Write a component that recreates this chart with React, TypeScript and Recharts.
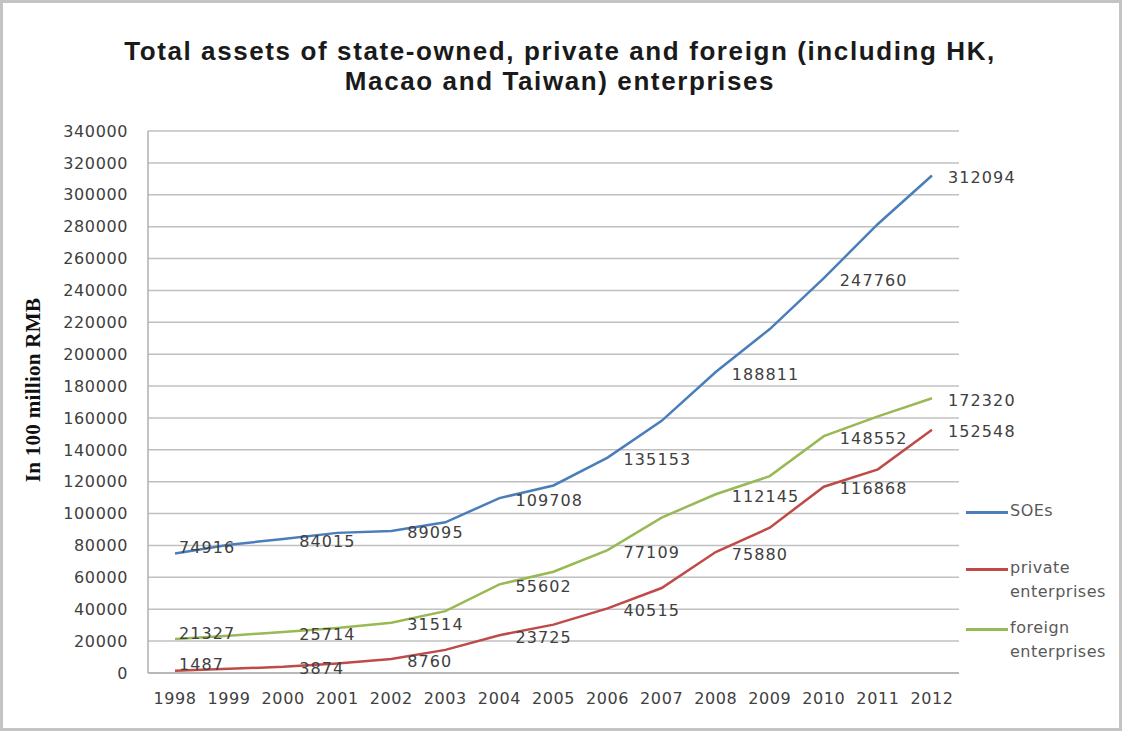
import React from "react"
import { LineChart, Line, XAxis, YAxis, CartesianGrid, LabelList, Legend } from "recharts"

const years = ["1998", "1999", "2000", "2001", "2002", "2003", "2004", "2005", "2006", "2007", "2008", "2009", "2010", "2011", "2012"]
const soes = [74916, 80472, 84015, 87902, 89095, 94520, 109708, 117630, 135153, 158188, 188811, 215742, 247760, 281674, 312094]
const privateEnt = [1487, 2600, 3874, 6000, 8760, 14500, 23725, 30325, 40515, 53305, 75880, 91176, 116868, 127750, 152548]
const foreignEnt = [21327, 23400, 25714, 28300, 31514, 38800, 55602, 63500, 77109, 97500, 112145, 123500, 148552, 161000, 172320]
const yTicks = [0, 20000, 40000, 60000, 80000, 100000, 120000, 140000, 160000, 180000, 200000, 220000, 240000, 260000, 280000, 300000, 320000, 340000]
const titleLines = ["Total assets of state-owned, private and foreign (including HK,", "Macao and Taiwan) enterprises"]

const data = years.map((year, i) => ({
  year,
  soes: soes[i],
  private: privateEnt[i],
  foreign: foreignEnt[i],
}))

const FONT = "'DejaVu Sans', sans-serif"
const TXT = "#404040"
const tickStyle = { fontFamily: FONT, fontSize: 16, fill: TXT, letterSpacing: 0.6 }

// Excel-style labels on every other year, placed right of the point
const PointLabel = (props: any) => {
  const { x, y, value, index } = props
  if (index % 2 !== 0) return null
  const first = index === 0
  return (
    <text
      x={x + (first ? 4 : 16)}
      y={y + (first ? -6 : 2)}
      dominantBaseline="central"
      textAnchor="start"
      fontFamily={FONT}
      fontSize={16}
      letterSpacing={1.1}
      fill={TXT}
    >
      {value}
    </text>
  )
}

const legendItems = [
  { name: ["SOEs"], color: "#4A7EBB", top: 512 },
  { name: ["private", "enterprises"], color: "#BE4B48", top: 569 },
  { name: ["foreign", "enterprises"], color: "#98B954", top: 629 },
]

const SideLegend = () => (
  <div style={{ position: "absolute", left: 0, top: 0, width: 1125, height: 733, pointerEvents: "none" }}>
    {legendItems.map((it) => (
      <div key={it.name[0]} style={{ position: "absolute", left: 966, top: it.top - 10, display: "flex" }}>
        <div style={{ width: 42, height: 3, background: it.color, marginTop: 9, marginRight: 2 }} />
        <div style={{ fontFamily: FONT, fontSize: 16, letterSpacing: 0.5, color: "#595959", lineHeight: "24px", marginTop: -3 }}>
          {it.name.map((n) => (
            <div key={n}>{n}</div>
          ))}
        </div>
      </div>
    ))}
  </div>
)

export default function App() {
  return (
    <div style={{ position: "absolute", left: 0, top: 0, width: 1125, height: 733, background: "#fff" }}>
      <div
        style={{
          position: "absolute",
          left: 0,
          top: 0,
          width: 1122,
          height: 731,
          border: "3px solid #c4c4c4",
          boxSizing: "border-box",
        }}
      />
      {titleLines.map((line, i) => (
        <div
          key={line}
          style={{
            position: "absolute",
            left: 0,
            top: 37 + i * 30,
            width: 1120,
            textAlign: "center",
            fontFamily: "'Liberation Sans', Arial, sans-serif",
            fontWeight: 700,
            fontSize: 26,
            letterSpacing: 1.6,
            lineHeight: "28px",
            color: "#1a1a1a",
            whiteSpace: "nowrap",
          }}
        >
          {line}
        </div>
      ))}
      <div style={{ position: "absolute", left: 0, top: 0 }}>
        <LineChart width={1125} height={733} data={data} margin={{ top: 131, right: 166, bottom: 30, left: 0 }}>
          <CartesianGrid vertical={false} stroke="#c0c0c0" strokeWidth={1.5} />
          <XAxis
            dataKey="year"
            padding={{ left: 27, right: 27 }}
            stroke="#b0b0b0"
            strokeWidth={1.5}
            tickLine={false}
            tickSize={6}
            tickMargin={14}
            tick={tickStyle}
            interval={0}
          />
          <YAxis
            width={148}
            domain={[0, 340000]}
            ticks={yTicks}
            interval={0}
            stroke="#b0b0b0"
            strokeWidth={1.5}
            tickLine={false}
            tickMargin={14}
            tick={tickStyle}
            label={{
              content: () => (
                <text
                  x={33}
                  y={390}
                  transform="rotate(-90 33 390)"
                  textAnchor="middle"
                  dominantBaseline="central"
                  fontFamily="'Liberation Serif', 'Times New Roman', serif"
                  fontWeight={700}
                  fontSize={21}
                  letterSpacing={0.3}
                  fill="#111"
                >
                  In 100 million RMB
                </text>
              ),
            }}
          />
          <Legend content={() => null} />
          <Line dataKey="soes" name="SOEs" stroke="#4A7EBB" strokeWidth={2.5} dot={false} type="linear" isAnimationActive={false}>
            <LabelList dataKey="soes" content={PointLabel} />
          </Line>
          <Line dataKey="private" name="private enterprises" stroke="#BE4B48" strokeWidth={2.5} dot={false} type="linear" isAnimationActive={false}>
            <LabelList dataKey="private" content={PointLabel} />
          </Line>
          <Line dataKey="foreign" name="foreign enterprises" stroke="#98B954" strokeWidth={2.5} dot={false} type="linear" isAnimationActive={false}>
            <LabelList dataKey="foreign" content={PointLabel} />
          </Line>
        </LineChart>
      </div>
      <SideLegend />
    </div>
  )
}
